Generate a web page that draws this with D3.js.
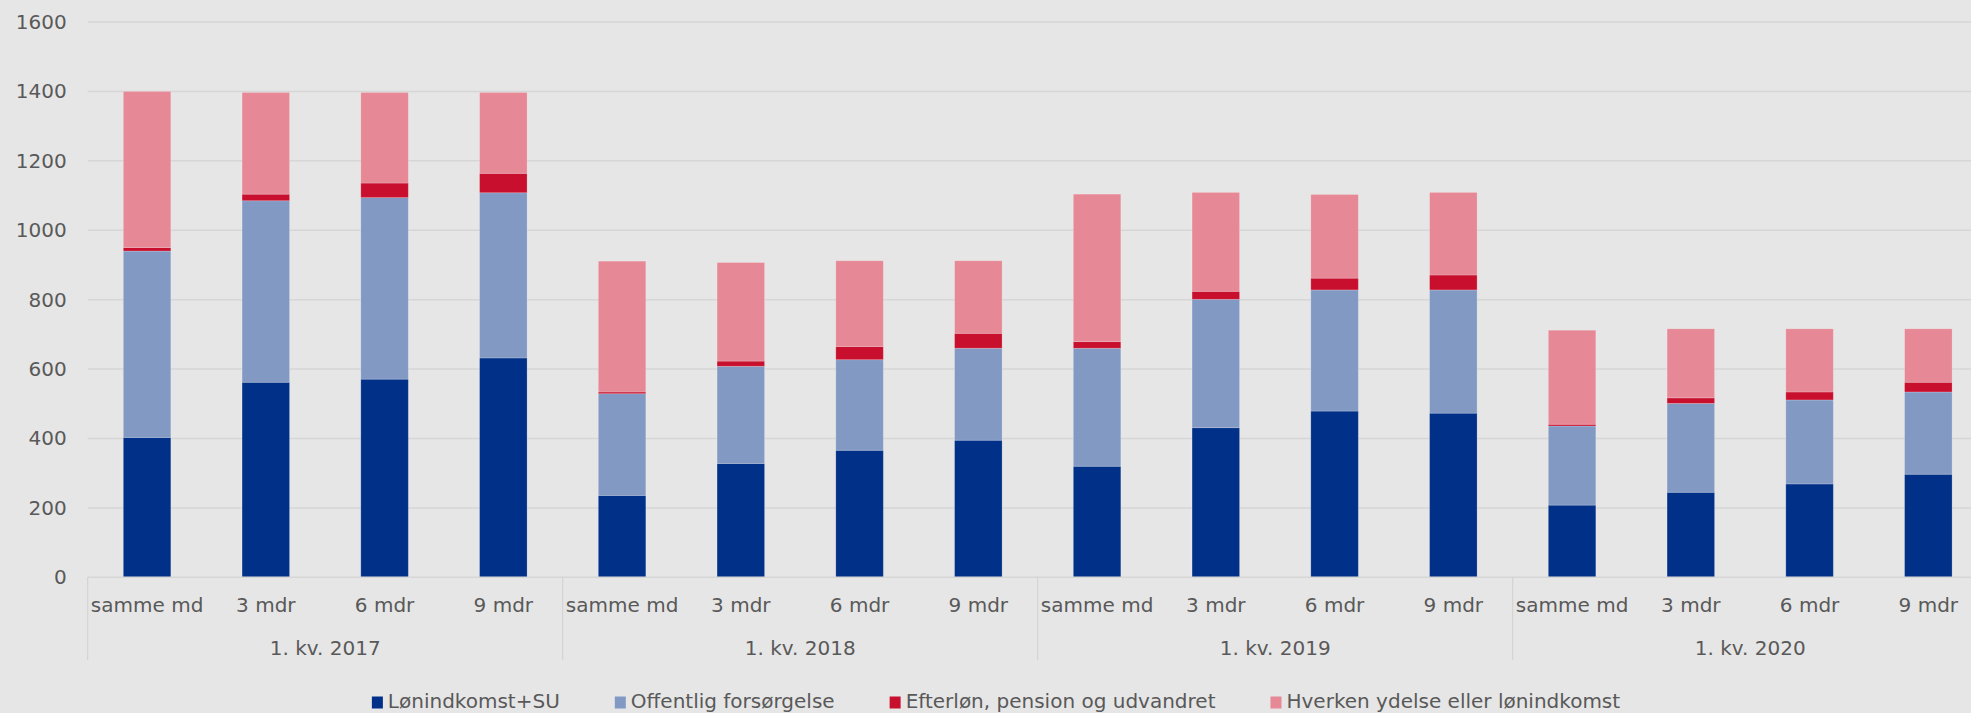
<!DOCTYPE html>
<html>
<head>
<meta charset="utf-8">
<script src="https://cdn.jsdelivr.net/npm/d3@7"></script>
<style>
  html, body { margin: 0; padding: 0; background: #e6e6e6; overflow: hidden; }
  svg { display: block; }
  text { font-family: "DejaVu Sans", Verdana, sans-serif; fill: #595959; }
</style>
</head>
<body>
<svg id="chart" width="1971" height="713"></svg>
<script>
// ---- data ----
const groups = ["1. kv. 2017", "1. kv. 2018", "1. kv. 2019", "1. kv. 2020"];
const periods = ["samme md", "3 mdr", "6 mdr", "9 mdr"];
const seriesNames = ["Lønindkomst+SU", "Offentlig forsørgelse", "Efterløn, pension og udvandret", "Hverken ydelse eller lønindkomst"];
const lonindkomst = [403, 562, 571, 632, 236, 328, 366, 395, 320, 431, 479, 473, 208, 245, 269, 297];
const offentlig   = [537, 523, 523, 476, 293, 280, 261, 265, 340, 370, 349, 355, 228, 256, 242, 237];
const efterlon    = [10, 19, 42, 56, 5, 15, 38, 43, 19, 23, 34, 43, 5, 16, 23, 28];
const hverken     = [450, 293, 261, 233, 377, 284, 247, 209, 425, 285, 241, 238, 271, 199, 182, 154];
const yTicks = [0, 200, 400, 600, 800, 1000, 1200, 1400, 1600];
const colors = ["#003087", "#8299c4", "#c8102e", "#e68896"];

(function () {
// ---- build table ----
const rows = [];
groups.forEach((g, gi) => periods.forEach((p, pi) => {
  const i = gi * periods.length + pi;
  rows.push({ key: g + "|" + p, group: g, period: p,
    s0: lonindkomst[i], s1: offentlig[i], s2: efterlon[i], s3: hverken[i] });
}));
const keys = ["s0", "s1", "s2", "s3"];
const stacked = d3.stack().keys(keys)(rows);

// ---- layout ----
const svg = d3.select("#chart");
const W = 1971;
const plotLeft = 87.7, plotRight = 1987.7, plotTop = 22, plotBottom = 577.3;

const x = d3.scaleBand().domain(rows.map(d => d.key)).range([plotLeft, plotRight])
  .paddingInner(0.6).paddingOuter(0.3);
const y = d3.scaleLinear().domain([0, 1600]).range([plotBottom, plotTop]);

// gridlines
svg.append("g").selectAll("line").data(yTicks.filter(t => t > 0)).join("line")
  .attr("x1", plotLeft).attr("x2", W)
  .attr("y1", d => y(d)).attr("y2", d => y(d))
  .attr("stroke", "#d6d6d6").attr("stroke-width", 1.5);

// y axis labels
const yAxis = d3.axisLeft(y).tickValues(yTicks).tickFormat(d3.format("d")).tickSize(0).tickPadding(21);
const yg = svg.append("g").attr("transform", `translate(${plotLeft},0)`).call(yAxis);
yg.select(".domain").remove();
yg.selectAll("text").attr("font-size", 20).attr("fill", "#595959")
  .style("font-family", '"DejaVu Sans", Verdana, sans-serif');

// bars
svg.append("g").selectAll("g").data(stacked).join("g")
  .attr("fill", (d, i) => colors[i])
  .selectAll("rect").data(d => d).join("rect")
  .attr("x", d => x(d.data.key))
  .attr("width", x.bandwidth())
  .attr("y", d => y(d[1]))
  .attr("height", d => y(d[0]) - y(d[1]))
  .attr("stroke", "rgba(255,255,255,0.25)").attr("stroke-width", 0.8);

// x axis baseline
svg.append("line").attr("x1", plotLeft).attr("x2", W)
  .attr("y1", plotBottom).attr("y2", plotBottom)
  .attr("stroke", "#d6d6d6").attr("stroke-width", 1.5);

// period labels
const xAxis = d3.axisBottom(x).tickSize(0).tickPadding(0).tickFormat(k => k.split("|")[1]);
const xg = svg.append("g").attr("transform", `translate(0,${plotBottom})`).call(xAxis);
xg.select(".domain").remove();
xg.selectAll("text").attr("font-size", 20).attr("fill", "#595959")
  .attr("dy", null).attr("y", 35)
  .style("font-family", '"DejaVu Sans", Verdana, sans-serif');

// group separators and labels
const step = x.step();
groups.forEach((g) => {
  const first = x(g + "|" + periods[0]);
  const last = x(g + "|" + periods[periods.length - 1]);
  const x0 = first - (step - x.bandwidth()) / 2;
  const x1 = last + x.bandwidth() + (step - x.bandwidth()) / 2;
  svg.append("line").attr("x1", x0).attr("x2", x0)
    .attr("y1", plotBottom).attr("y2", 660)
    .attr("stroke", "#d0d0d0").attr("stroke-width", 1);
  svg.append("text").attr("x", (x0 + x1) / 2).attr("y", 655)
    .attr("text-anchor", "middle").attr("font-size", 20).text(g);
});

// legend
const lg = svg.append("g");
const items = lg.selectAll("g").data(seriesNames).join("g");
items.append("rect").attr("width", 11).attr("height", 12).attr("y", 696.5)
  .attr("fill", (d, i) => colors[i]);
items.append("text").attr("x", 16).attr("y", 708).attr("font-size", 20).text(d => d);
let cx = 0;
const gap = 55;
items.each(function () {
  const t = d3.select(this).select("text").node().getComputedTextLength();
  d3.select(this).attr("transform", `translate(${cx},0)`);
  cx += 16 + t + gap;
});
const totalW = cx - gap;
lg.attr("transform", `translate(${996 - totalW / 2},0)`);
})();
</script>
</body>
</html>
